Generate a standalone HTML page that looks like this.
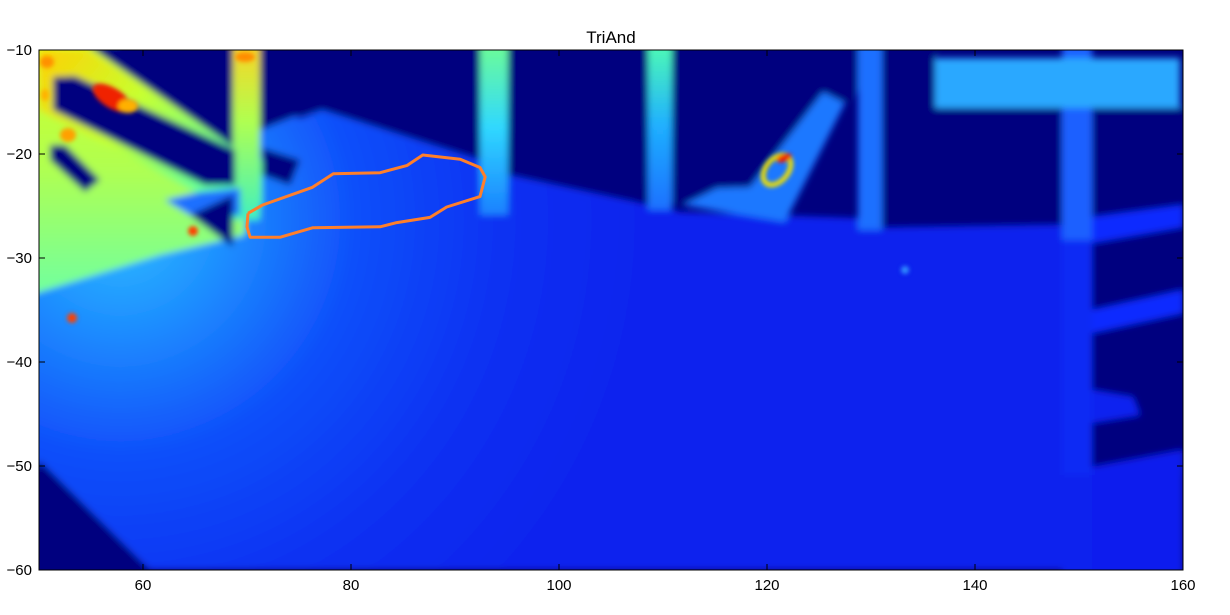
<!DOCTYPE html>
<html><head><meta charset="utf-8"><style>
html,body{margin:0;padding:0;background:#fff;}
svg{display:block;font-family:"Liberation Sans",sans-serif;}
</style></head><body>
<svg id="chart" width="1230" height="615" viewBox="0 0 1230 615">
<defs>
<filter id="blur" x="-5%" y="-5%" width="110%" height="110%"><feGaussianBlur stdDeviation="3.5"/></filter>
<filter id="blur2"><feGaussianBlur stdDeviation="2"/></filter>
<clipPath id="plotclip"><rect x="39" y="50" width="1144" height="520"/></clipPath>
<radialGradient id="glow" cx="120" cy="220" r="520" gradientUnits="userSpaceOnUse">
<stop offset="0" stop-color="#30c0ff"/><stop offset="0.2" stop-color="#1e90ff"/><stop offset="0.45" stop-color="#1050fa"/><stop offset="0.75" stop-color="#0a30f2"/><stop offset="1" stop-color="#0a24ee"/>
</radialGradient>
<linearGradient id="leftGrad" x1="0" y1="0" x2="0" y2="1">
<stop offset="0" stop-color="#d8ff20"/><stop offset="0.5" stop-color="#b0ff50"/><stop offset="1" stop-color="#70ffa0"/>
</linearGradient>
<linearGradient id="bandGrad" x1="0" y1="0" x2="1" y2="0.6">
<stop offset="0" stop-color="#ffd000"/><stop offset="0.45" stop-color="#c8ff30"/><stop offset="1" stop-color="#50ffb0"/>
</linearGradient>
<linearGradient id="barGrad" x1="0" y1="0" x2="0" y2="1">
<stop offset="0" stop-color="#ffd020"/><stop offset="0.45" stop-color="#b0ff50"/><stop offset="1" stop-color="#40f0c0"/>
</linearGradient>
<linearGradient id="bar2Grad" x1="0" y1="0" x2="0" y2="1">
<stop offset="0" stop-color="#70ff90"/><stop offset="0.5" stop-color="#30d8ff"/><stop offset="1" stop-color="#1a80ff"/>
</linearGradient>
<linearGradient id="bar3Grad" x1="0" y1="0" x2="0" y2="1">
<stop offset="0" stop-color="#50ffb0"/><stop offset="0.5" stop-color="#20b0ff"/><stop offset="1" stop-color="#1a70ff"/>
</linearGradient>
</defs>
<text x="611" y="43" text-anchor="middle" font-size="17">TriAnd</text>
<g clip-path="url(#plotclip)">
<rect x="39" y="50" width="1144" height="520" fill="#00007f"/>
<g filter="url(#blur)">
<polygon points="30,40 110,40 300,118 322,110 680,212 1062,225 1062,570 150,570 30,460" fill="url(#glow)"/>
<polygon points="1062,225 1183,225 1183,575 1062,575" fill="#0a20ee"/>
<polygon points="30,40 95,40 245,150 245,235 160,255 30,295" fill="url(#leftGrad)"/>
<polygon points="39,50 87,50 233,147 262,160 262,205 240,215 39,110" fill="url(#bandGrad)"/>
<rect x="233" y="40" width="27" height="180" fill="url(#barGrad)"/>
<rect x="480" y="40" width="28" height="175" fill="url(#bar2Grad)"/>
<rect x="648" y="40" width="24" height="170" fill="url(#bar3Grad)"/>
<rect x="858" y="40" width="24" height="190" fill="#1a70ff"/>
<rect x="1062" y="40" width="30" height="200" fill="#1a60ff"/>
<rect x="1062" y="240" width="30" height="235" fill="#0a2cf4"/>
<rect x="935" y="58" width="245" height="50" fill="#2aa8ff"/>
<polygon points="683,205 717,188 750,187 823,92 845,103 785,222" fill="#1a78ff"/>
<polygon points="53,77 75,76 235,150 235,185 205,185 53,110" fill="#00007f"/>
<polygon points="50,145 65,145 100,180 85,192 50,160" fill="#00007f"/>
<polygon points="165,200 200,192 240,188 240,215 190,215" fill="#1a70ff"/>
<polygon points="190,215 233,195 233,247" fill="#00007f"/>
<polygon points="87,45 233,45 233,147" fill="#00007f"/>
<polygon points="260,45 480,45 480,160 322,110 293,117 260,130" fill="#00007f"/>
<polygon points="508,45 648,45 648,205 508,175" fill="#00007f"/>
<polygon points="672,45 858,45 858,90 845,103 823,92 750,187 717,188 683,205 672,205" fill="#00007f"/>
<polygon points="882,45 935,45 935,108 1062,108 1062,225 882,228" fill="#00007f"/>
<polygon points="1092,108 1190,108 1190,475 1103,467 1092,467" fill="#00007f"/>
<polygon points="262,148 300,160 290,185 262,175" fill="#00007f"/>
<polygon points="39,460 150,570 39,570" fill="#00007f"/>
<polygon points="1092,217 1183,205 1183,227 1092,243" fill="#0a2cff"/>
<polygon points="1092,310 1183,290 1183,313 1092,333" fill="#0a2cff"/>
<polygon points="1092,390 1133,397 1140,415 1092,423" fill="#0a22f0"/>
<polygon points="1092,467 1183,450 1183,575 1092,575" fill="#0a1cee"/>
</g>
<g filter="url(#blur2)">
<ellipse cx="112" cy="98" rx="22" ry="10" transform="rotate(32 112 98)" fill="#f02000"/>
<ellipse cx="128" cy="106" rx="10" ry="7" fill="#ffb000"/>
<ellipse cx="245" cy="57" rx="10" ry="5" fill="#ff8c00"/>
<ellipse cx="68" cy="135" rx="8" ry="7" fill="#ffa000"/>
<ellipse cx="47" cy="62" rx="7" ry="6" fill="#ff9000"/>
<ellipse cx="45" cy="95" rx="4" ry="6" fill="#ffb000"/>
<ellipse cx="777" cy="170" rx="11" ry="17" transform="rotate(40 777 170)" fill="none" stroke="#f0e000" stroke-width="5"/>
<ellipse cx="784" cy="158" rx="8" ry="4" transform="rotate(-20 784 158)" fill="#f02000"/>
<circle cx="193" cy="231" r="5" fill="#ff4000"/>
<circle cx="72" cy="318" r="5" fill="#ff4000"/>
<circle cx="905" cy="270" r="4" fill="#3090ff"/>
</g>
<polyline id="contour" fill="none" stroke="#ff7f2a" stroke-width="3" stroke-linejoin="round"/>
</g>
<rect x="39" y="50" width="1144" height="520" fill="none" stroke="#000" stroke-width="1"/>
<g id="axes"></g>
</svg>
<script>
const xTicks = [50, 60, 80, 100, 120, 140, 160];
const xTickLabels = ["", "60", "80", "100", "120", "140", "160"];
const yTicks = [-10, -20, -30, -40, -50, -60];
const yTickLabels = ["\u221210", "\u221220", "\u221230", "\u221240", "\u221250", "\u221260"];
const contourX = [70.1, 71.5, 76.3, 78.3, 82.8, 85.4, 86.9, 90.5, 92.4, 92.9, 92.4, 89.2, 87.6, 84.4, 82.8, 76.3, 73.2, 70.3, 70.0, 70.1];
const contourY = [-25.7, -24.9, -23.2, -21.9, -21.8, -21.1, -20.1, -20.5, -21.3, -22.2, -24.1, -25.1, -26.1, -26.6, -27.0, -27.1, -28.0, -28.0, -27.0, -25.7];
const X0 = 39, X1 = 1183, Y0 = 50, Y1 = 570;
function xs(v){ return X0 + (v - 50) / 110 * (X1 - X0); }
function ys(v){ return Y0 + (-10 - v) / 50 * (Y1 - Y0); }
const NS = "http://www.w3.org/2000/svg";
const c = document.getElementById('contour');
c.setAttribute('points', contourX.map((x, i) => xs(x).toFixed(1) + ',' + ys(contourY[i]).toFixed(1)).join(' '));
const ax = document.getElementById('axes');
xTicks.forEach((t, i) => {
  const x = xs(t);
  [[Y1, Y1 - 6], [Y0, Y0 + 6]].forEach(p => {
    const l = document.createElementNS(NS, 'line');
    
    
    l.setAttribute('x1', x); l.setAttribute('x2', x); l.setAttribute('y1', p[0]); l.setAttribute('y2', p[1]);
    l.setAttribute('stroke', '#000');
    ax.appendChild(l);
  });
  if (xTickLabels[i]) {
    const tx = document.createElementNS(NS, 'text');
    
    
    tx.setAttribute('x', x); tx.setAttribute('y', 590);
    tx.setAttribute('text-anchor', 'middle'); tx.setAttribute('font-size', '15');
    tx.textContent = xTickLabels[i];
    ax.appendChild(tx);
  }
});
yTicks.forEach((t, i) => {
  const y = ys(t);
  [[X0, X0 + 6], [X1, X1 - 6]].forEach(p => {
    const l = document.createElementNS(NS, 'line');
    
    
    l.setAttribute('x1', p[0]); l.setAttribute('x2', p[1]); l.setAttribute('y1', y); l.setAttribute('y2', y);
    l.setAttribute('stroke', '#000');
    ax.appendChild(l);
  });
  const tx = document.createElementNS(NS, 'text');
  
  
  tx.setAttribute('x', 32); tx.setAttribute('y', y + 5);
  tx.setAttribute('text-anchor', 'end'); tx.setAttribute('font-size', '15');
  tx.textContent = yTickLabels[i];
  ax.appendChild(tx);
});
</script>
</body></html>
